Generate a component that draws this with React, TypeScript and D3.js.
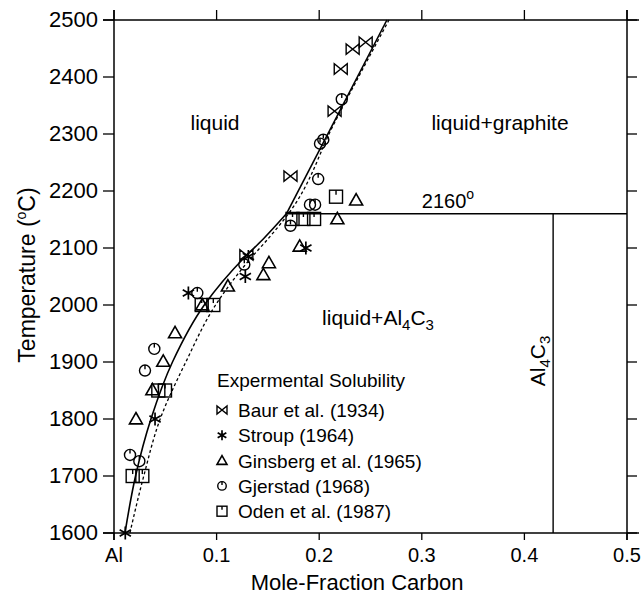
import React from "react";
import * as d3 from "d3";

const W = 642;
const H = 597;

// Axis ticks
const xTicks = [0, 0.1, 0.2, 0.3, 0.4, 0.5];
const xTickLabels = ["Al", "0.1", "0.2", "0.3", "0.4", "0.5"];
const yTicks = [1600, 1700, 1800, 1900, 2000, 2100, 2200, 2300, 2400, 2500];

// Liquidus (solid) curve, below and above the 2160° point
const solidLowX = [0.0107, 0.021, 0.036, 0.057, 0.088, 0.128, 0.145, 0.168];
const solidLowT = [1600, 1700, 1800, 1900, 2000, 2085, 2115, 2160];
const solidHighX = [0.168, 0.266];
const solidHighT = [2160, 2500];

// Dashed curve
const dashX = [0.0155, 0.029, 0.045, 0.07, 0.099, 0.13, 0.152, 0.170, 0.215, 0.268];
const dashT = [1600, 1700, 1800, 1900, 2000, 2075, 2120, 2160, 2320, 2500];

// Phase boundaries
const peritecticT = 2160;
const peritecticX = 0.168;
const al4c3X = 0.428;

// Experimental data
const baurX = [0.172, 0.215, 0.221, 0.2326, 0.2453, 0.129];
const baurT = [2226, 2340, 2414, 2449, 2461, 2088];
const stroupX = [0.011, 0.04, 0.0725, 0.128, 0.131, 0.187];
const stroupT = [1600, 1800, 2021, 2050, 2085, 2100];
const ginsX = [0.0214, 0.0374, 0.048, 0.0595, 0.086, 0.111, 0.1456, 0.151, 0.181, 0.2177, 0.236];
const ginsT = [1800, 1851, 1901, 1951, 2000, 2033, 2053, 2074, 2103, 2151, 2184];
const gjerX = [0.0156, 0.0247, 0.0302, 0.0393, 0.0812, 0.127, 0.172, 0.191, 0.196, 0.199, 0.2008, 0.204, 0.222];
const gjerT = [1737, 1726, 1885, 1923, 2021, 2071, 2139, 2176, 2176, 2221, 2283, 2290, 2361];
const odenX = [0.0182, 0.0276, 0.0432, 0.0497, 0.0855, 0.0968, 0.174, 0.1846, 0.195, 0.2164];
const odenT = [1700, 1700, 1850, 1850, 2000, 2000, 2151, 2151, 2151, 2190];

const legendNames = [
  "Baur et al. (1934)",
  "Stroup (1964)",
  "Ginsberg et al. (1965)",
  "Gjerstad (1968)",
  "Oden et al. (1987)",
];
const legendKinds = ["bowtie", "star", "triangle", "circle", "square"];

const FONT = "'Liberation Sans', Arial, Helvetica, sans-serif";

function Marker({ kind, x, y, s }: { kind: string; x: number; y: number; s: number }) {
  const h = s / 2;
  const sw = 1.4;
  if (kind === "bowtie") {
    const d = `M${x - h},${y - h * 0.8} L${x - h},${y + h * 0.8} L${x + h},${y - h * 0.8} L${x + h},${y + h * 0.8} Z`;
    return <path d={d} fill="none" stroke="#000" strokeWidth={sw} strokeLinejoin="miter" />;
  }
  if (kind === "star") {
    const arms = [0, 60, 120].map((a) => {
      const r = (a * Math.PI) / 180;
      const dx = Math.sin(r) * h;
      const dy = Math.cos(r) * h;
      return `M${x - dx},${y - dy} L${x + dx},${y + dy}`;
    });
    return <path d={arms.join(" ")} fill="none" stroke="#000" strokeWidth={sw + 0.3} />;
  }
  if (kind === "triangle") {
    const d = `M${x},${y - h} L${x + h},${y + h * 0.75} L${x - h},${y + h * 0.75} Z`;
    return <path d={d} fill="none" stroke="#000" strokeWidth={sw + 0.2} />;
  }
  if (kind === "circle") {
    return (
      <g>
        <circle cx={x} cy={y} r={h * 0.85} fill="none" stroke="#000" strokeWidth={sw} />
        <line x1={x} y1={y - h * 0.85} x2={x} y2={y - h * 0.2} stroke="#000" strokeWidth={sw} />
      </g>
    );
  }
  // square
  return (
    <g>
      <rect x={x - h} y={y - h} width={s} height={s} fill="none" stroke="#000" strokeWidth={sw} />
      <line x1={x} y1={y - h} x2={x} y2={y - h * 0.3} stroke="#000" strokeWidth={sw} />
    </g>
  );
}

export default function App() {
  const x = d3.scaleLinear().domain([0, 0.5]).range([114, 627]);
  const y = d3.scaleLinear().domain([1600, 2500]).range([533, 20]);

  const line = d3
    .line<[number, number]>()
    .x((d) => x(d[0]))
    .y((d) => y(d[1]));
  const curve = d3
    .line<[number, number]>()
    .x((d) => x(d[0]))
    .y((d) => y(d[1]))
    .curve(d3.curveMonotoneY);

  const zip = (a: number[], b: number[]) => a.map((v, i) => [v, b[i]] as [number, number]);

  const solidLow = curve(zip(solidLowX, solidLowT)) || "";
  const solidHigh = line(zip(solidHighX, solidHighT)) || "";
  const dashed = curve(zip(dashX, dashT)) || "";

  const x0 = x(0), x1 = x(0.5), yTop = y(2500), yBot = y(1600);

  const series = [
    { kind: "bowtie", xs: baurX, ts: baurT },
    { kind: "star", xs: stroupX, ts: stroupT },
    { kind: "triangle", xs: ginsX, ts: ginsT },
    { kind: "circle", xs: gjerX, ts: gjerT },
    { kind: "square", xs: odenX, ts: odenT },
  ];

  return (
    <svg
      width={W}
      height={H}
      style={{ position: "absolute", left: 0, top: 0, background: "#fff" }}
      fontFamily={FONT}
    >
      <rect x={0} y={0} width={W} height={H} fill="#fff" />
      {/* frame */}
      <g stroke="#000" strokeWidth={1.5} fill="none">
        <line x1={x0 - 11} y1={yTop} x2={x1 + 12} y2={yTop} />
        <line x1={x0 - 11} y1={yBot} x2={x1 + 12} y2={yBot} />
        <line x1={x0} y1={yTop - 10} x2={x0} y2={yBot + 7} />
        <line x1={x1} y1={yTop - 10} x2={x1} y2={yBot + 7} />
      </g>
      {/* ticks */}
      <g stroke="#000" strokeWidth={1.3}>
        {xTicks.map((t) => (
          <g key={"xt" + t}>
            <line x1={x(t)} x2={x(t)} y1={yBot} y2={yBot + 7} />
            <line x1={x(t)} x2={x(t)} y1={yTop} y2={yTop - 10} />
          </g>
        ))}
        {yTicks.map((t) => (
          <g key={"yt" + t}>
            <line x1={x0 - 11} x2={x0} y1={y(t)} y2={y(t)} />
            <line x1={x1} x2={x1 + 10} y1={y(t)} y2={y(t)} />
          </g>
        ))}
      </g>
      {/* tick labels */}
      <g fill="#000">
        {xTicks.map((t, i) => (
          <text key={"xl" + t} x={x(t)} y={yBot + 29} textAnchor="middle" fontSize={20}>
            {xTickLabels[i]}
          </text>
        ))}
        {yTicks.map((t) => (
          <text key={"yl" + t} x={x0 - 16} y={y(t) + 7} textAnchor="end" fontSize={22}>
            {t}
          </text>
        ))}
      </g>
      {/* axis titles */}
      <text x={357} y={590} textAnchor="middle" fontSize={22}>
        Mole-Fraction Carbon
      </text>
      <text transform={`translate(35,${275}) rotate(-90)`} textAnchor="middle" fontSize={23}>
        Temperature (
        <tspan fontSize={14} dy={-9}>o</tspan>
        <tspan dy={9}>C)</tspan>
      </text>

      {/* phase boundaries */}
      <g stroke="#000" fill="none">
        <line x1={x(peritecticX)} y1={y(peritecticT)} x2={x1} y2={y(peritecticT)} strokeWidth={1.4} />
        <line x1={x(al4c3X)} y1={y(peritecticT)} x2={x(al4c3X)} y2={yBot} strokeWidth={1.4} />
        <path d={solidLow} strokeWidth={1.6} />
        <path d={solidHigh} strokeWidth={1.6} />
        <path d={dashed} strokeWidth={1.3} strokeDasharray="3,2.5" />
      </g>

      {/* region labels */}
      <g fontSize={21} fill="#000">
        <text x={215} y={130} textAnchor="middle">liquid</text>
        <text x={500} y={130} textAnchor="middle">liquid+graphite</text>
        <text x={378} y={325} textAnchor="middle">
          liquid+Al<tspan fontSize={15} dy={5}>4</tspan>
          <tspan dy={-5}>C</tspan>
          <tspan fontSize={15} dy={5}>3</tspan>
        </text>
        <text x={448} y={208} textAnchor="middle" fontSize={20}>
          2160<tspan fontSize={14} dy={-9}>o</tspan>
        </text>
        <text transform={`translate(545,361) rotate(-90)`} textAnchor="middle">
          Al<tspan fontSize={15} dy={5}>4</tspan>
          <tspan dy={-5}>C</tspan>
          <tspan fontSize={15} dy={5}>3</tspan>
        </text>
      </g>

      {/* data markers */}
      {series.map((s) =>
        s.xs.map((v, i) => (
          <Marker key={s.kind + i} kind={s.kind} x={x(v)} y={y(s.ts[i])} s={13} />
        ))
      )}

      {/* legend */}
      <g fontSize={19} fill="#000">
        <text x={217} y={387}>Expermental Solubility</text>
        {legendNames.map((n, i) => (
          <g key={n}>
            <Marker kind={legendKinds[i]} x={222} y={410 + i * 25.3} s={10} />
            <text x={238} y={410 + i * 25.3 + 7}>{n}</text>
          </g>
        ))}
      </g>
    </svg>
  );
}
